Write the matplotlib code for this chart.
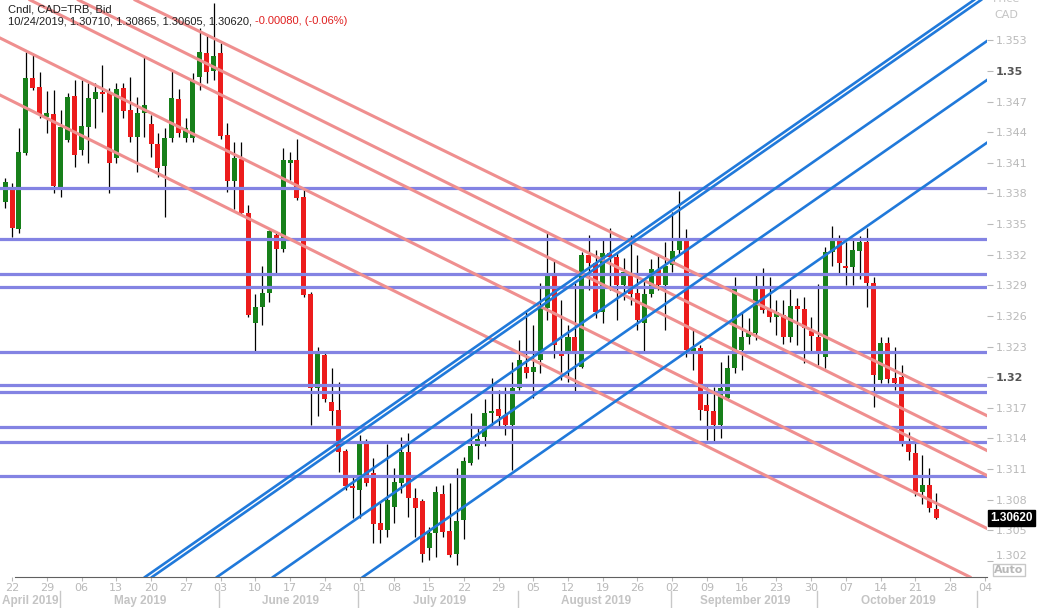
import matplotlib
matplotlib.use("Agg")
import matplotlib.pyplot as plt
import matplotlib.transforms as mtransforms
import numpy as np
import pandas as pd

# daily candles, CAD=TRB bid
dates = pd.bdate_range("2019-04-19", "2019-10-24")
axis_dates = pd.bdate_range("2019-04-19", "2019-11-08")

opens = [1.3372, 1.3386, 1.3345, 1.3420, 1.3493, 1.3484, 1.3455, 1.3458, 1.3386, 1.3432,
         1.3476, 1.3423, 1.3445, 1.3473, 1.3479, 1.3478, 1.3415, 1.3483, 1.3462, 1.3435,
         1.3459, 1.3448, 1.3428, 1.3407, 1.3434, 1.3473, 1.3434, 1.3434, 1.3494, 1.3518,
         1.3500, 1.3518, 1.3437, 1.3392, 1.3414, 1.3361, 1.3253, 1.3269, 1.3282, 1.3339,
         1.3326, 1.3410, 1.3413, 1.3377, 1.3281, 1.3189, 1.3222, 1.3176, 1.3168, 1.3128,
         1.3093, 1.3089, 1.3134, 1.3106, 1.3057, 1.3050, 1.3073, 1.3096, 1.3127, 1.3082,
         1.3079, 1.3033, 1.3047, 1.3085, 1.3049, 1.3027, 1.3060, 1.3116, 1.3132, 1.3141,
         1.3165, 1.3169, 1.3163, 1.3153, 1.3189, 1.3210, 1.3205, 1.3217, 1.3268, 1.3299,
         1.3224, 1.3224, 1.3239, 1.3210, 1.3320, 1.3312, 1.3264, 1.3322, 1.3318, 1.3290,
         1.3300, 1.3282, 1.3253, 1.3281, 1.3305, 1.3290, 1.3310, 1.3325, 1.3333, 1.3224,
         1.3229, 1.3173, 1.3167, 1.3153, 1.3180, 1.3209, 1.3227, 1.3239, 1.3243, 1.3287,
         1.3266, 1.3259, 1.3261, 1.3239, 1.3270, 1.3267, 1.3245, 1.3239, 1.3220, 1.3323,
         1.3333, 1.3309, 1.3308, 1.3324, 1.3332, 1.3292, 1.3197, 1.3233, 1.3199, 1.3200,
         1.3134, 1.3126, 1.3087, 1.3094, 1.30710]
highs = [1.3395, 1.3390, 1.3444, 1.3519, 1.3516, 1.3499, 1.3480, 1.3481, 1.3462, 1.3478,
         1.3491, 1.3491, 1.3488, 1.3488, 1.3506, 1.3483, 1.3488, 1.3488, 1.3494, 1.3475,
         1.3515, 1.3457, 1.3439, 1.3444, 1.3501, 1.3482, 1.3454, 1.3498, 1.3542, 1.3535,
         1.3567, 1.3527, 1.3449, 1.3430, 1.3430, 1.3369, 1.3281, 1.3309, 1.3344, 1.3343,
         1.3425, 1.3421, 1.3433, 1.3383, 1.3283, 1.3230, 1.3224, 1.3209, 1.3195, 1.3130,
         1.3102, 1.3143, 1.3139, 1.3121, 1.3078, 1.3134, 1.3111, 1.3141, 1.3145, 1.3091,
         1.3081, 1.3053, 1.3093, 1.3094, 1.3096, 1.3111, 1.3122, 1.3165, 1.3150, 1.3179,
         1.3199, 1.3187, 1.3190, 1.3215, 1.3236, 1.3264, 1.3251, 1.3292, 1.3341, 1.3314,
         1.3276, 1.3251, 1.3292, 1.3323, 1.3339, 1.3325, 1.3336, 1.3346, 1.3323, 1.3317,
         1.3339, 1.3320, 1.3297, 1.3316, 1.3320, 1.3332, 1.3362, 1.3382, 1.3345, 1.3246,
         1.3231, 1.3190, 1.3190, 1.3215, 1.3222, 1.3298, 1.3263, 1.3258, 1.3300, 1.3307,
         1.3298, 1.3276, 1.3276, 1.3286, 1.3278, 1.3279, 1.3259, 1.3291, 1.3328, 1.3348,
         1.3339, 1.3332, 1.3336, 1.3338, 1.3346, 1.3298, 1.3239, 1.3239, 1.3230, 1.3212,
         1.3146, 1.3136, 1.3124, 1.3111, 1.30865]
lows = [1.3366, 1.3337, 1.3341, 1.3418, 1.3481, 1.3454, 1.3439, 1.3380, 1.3377, 1.3430,
        1.3406, 1.3418, 1.3410, 1.3444, 1.3460, 1.3380, 1.3410, 1.3454, 1.3430, 1.3401,
        1.3435, 1.3416, 1.3396, 1.3357, 1.3430, 1.3435, 1.3430, 1.3430, 1.3481, 1.3488,
        1.3491, 1.3433, 1.3381, 1.3365, 1.3359, 1.3259, 1.3226, 1.3251, 1.3274, 1.3302,
        1.3323, 1.3393, 1.3374, 1.3279, 1.3153, 1.3162, 1.3176, 1.3153, 1.3107, 1.3089,
        1.3062, 1.3062, 1.3093, 1.3037, 1.3037, 1.3043, 1.3057, 1.3086, 1.3063, 1.3043,
        1.3019, 1.3021, 1.3024, 1.3043, 1.3024, 1.3016, 1.3041, 1.3114, 1.3120, 1.3132,
        1.3151, 1.3150, 1.3143, 1.3109, 1.3187, 1.3199, 1.3180, 1.3204, 1.3256, 1.3219,
        1.3197, 1.3195, 1.3185, 1.3209, 1.3285, 1.3258, 1.3253, 1.3285, 1.3256, 1.3276,
        1.3271, 1.3246, 1.3225, 1.3279, 1.3285, 1.3246, 1.3303, 1.3320, 1.3220, 1.3207,
        1.3158, 1.3138, 1.3136, 1.3140, 1.3178, 1.3204, 1.3207, 1.3232, 1.3236, 1.3263,
        1.3254, 1.3241, 1.3232, 1.3234, 1.3231, 1.3214, 1.3226, 1.3212, 1.3209, 1.3309,
        1.3300, 1.3290, 1.3290, 1.3296, 1.3269, 1.3171, 1.3194, 1.3194, 1.3187, 1.3132,
        1.3119, 1.3083, 1.3076, 1.3068, 1.30605]
closes = [1.3391, 1.3346, 1.3421, 1.3493, 1.3483, 1.3457, 1.3459, 1.3387, 1.3445, 1.3475,
          1.3418, 1.3446, 1.3474, 1.3479, 1.3477, 1.3410, 1.3482, 1.3461, 1.3435, 1.3459,
          1.3467, 1.3428, 1.3405, 1.3434, 1.3474, 1.3439, 1.3444, 1.3491, 1.3519, 1.3499,
          1.3515, 1.3436, 1.3392, 1.3415, 1.3361, 1.3261, 1.3269, 1.3282, 1.3343, 1.3326,
          1.3413, 1.3413, 1.3376, 1.3280, 1.3189, 1.3223, 1.3179, 1.3167, 1.3127, 1.3093,
          1.3091, 1.3134, 1.3096, 1.3056, 1.3050, 1.3080, 1.3097, 1.3127, 1.3082, 1.3072,
          1.3027, 1.3047, 1.3087, 1.3048, 1.3026, 1.3059, 1.3118, 1.3132, 1.3139, 1.3165,
          1.3167, 1.3162, 1.3153, 1.3189, 1.3217, 1.3204, 1.3210, 1.3268, 1.3299, 1.3231,
          1.3221, 1.3239, 1.3223, 1.3320, 1.3312, 1.3264, 1.3322, 1.3318, 1.3290, 1.3303,
          1.3281, 1.3256, 1.3281, 1.3306, 1.3290, 1.3309, 1.3324, 1.3333, 1.3227, 1.3229,
          1.3168, 1.3167, 1.3153, 1.3189, 1.3209, 1.3287, 1.3239, 1.3243, 1.3287, 1.3266,
          1.3259, 1.3264, 1.3239, 1.3270, 1.3267, 1.3248, 1.3240, 1.3226, 1.3323, 1.3333,
          1.3312, 1.3307, 1.3325, 1.3332, 1.3292, 1.3202, 1.3233, 1.3198, 1.3194, 1.3136,
          1.3127, 1.3087, 1.3094, 1.3072, 1.30620]

# horizontal support / resistance levels
levels = [1.3385, 1.3335, 1.3301, 1.3288, 1.3225, 1.3192, 1.3185, 1.3151, 1.3136, 1.3103]

# falling channel lines: (date1, price1, date2, price2)
falling = [("2019-04-22", 1.35265, "2019-10-21", 1.30865),
           ("2019-04-22", 1.34706, "2019-10-21", 1.30306),
           ("2019-04-22", 1.35784, "2019-10-21", 1.31384),
           ("2019-04-22", 1.36019, "2019-10-21", 1.31628),
           ("2019-04-22", 1.36285, "2019-10-21", 1.31964)]
# rising channel lines
rising = [("2019-07-01", 1.31504, "2019-10-21", 1.35297),
          ("2019-07-01", 1.31456, "2019-10-21", 1.35249),
          ("2019-07-01", 1.31013, "2019-10-21", 1.34806),
          ("2019-07-01", 1.30631, "2019-10-21", 1.34424),
          ("2019-07-01", 1.30018, "2019-10-21", 1.33810)]

header1 = "Cndl, CAD=TRB, Bid"
header2 = "10/24/2019, 1.30710, 1.30865, 1.30605, 1.30620, "
header_chg = "-0.00080, (-0.06%)"

GREEN = "#17801a"
RED = "#ec1c1c"
PINK = "#ef8f8f"
BLUE = "#2079da"
LAV = "#8383e3"
LIGHT = "#b9b9b9"

fig = plt.figure(figsize=(10.37, 6.08), dpi=100)
ax = fig.add_axes([0, 31 / 608, 987 / 1037, 577 / 608])

o = np.array(opens)
h = np.array(highs)
l = np.array(lows)
c = np.array(closes)
x = np.arange(len(dates))
cols = np.where(c >= o, GREEN, RED)

ax.vlines(x, l, h, color="black", lw=0.9, zorder=2)
ax.bar(x, np.maximum(np.abs(c - o), 0.00012), bottom=np.minimum(o, c),
       width=0.72, color=cols, zorder=3)

def pos(d):
    return axis_dates.get_loc(pd.Timestamp(d))

for lv in levels:
    ax.axhline(lv, color=LAV, lw=2.3, zorder=4)
for d1, p1, d2, p2 in falling:
    ax.axline((pos(d1), p1), (pos(d2), p2), color=PINK, lw=2.2, zorder=4)
for d1, p1, d2, p2 in rising:
    ax.axline((pos(d1), p1), (pos(d2), p2), color=BLUE, lw=1.9, zorder=4)

ax.set_xlim(-0.73, 141.29)
ax.set_ylim(1.30041, 1.35696)

for s in ["left", "top", "right"]:
    ax.spines[s].set_visible(False)
ax.spines["bottom"].set_color("#606060")
ax.spines["bottom"].set_bounds(1.44, 141.29)

# right price axis
yt = np.arange(1.302, 1.3535, 0.003)
ax.yaxis.tick_right()
ax.set_yticks(yt)
labs = []
for v in yt:
    if abs(v - 1.32) < 1e-6 or abs(v - 1.35) < 1e-6:
        labs.append(f"{v:.2f}")
    else:
        labs.append(f"{v:.3f}")
ax.set_yticklabels(labs)
ax.tick_params(axis="y", right=True, length=4, width=0.8, color=LIGHT,
               pad=2, labelsize=8, labelcolor=LIGHT)
for t in ax.get_yticklabels():
    if t.get_text() in ("1.32", "1.35"):
        t.set_fontweight("bold")
        t.set_color("#555555")
ax.get_yticklabels()[0].set_va("bottom")

# weekly date ticks
mondays = [i for i, d in enumerate(axis_dates) if d.dayofweek == 0]
ax.set_xticks(mondays)
ax.set_xticklabels([axis_dates[i].strftime("%d") for i in mondays])
ax.tick_params(axis="x", length=3, width=0.8, color=LIGHT, pad=1.5,
               labelsize=8, labelcolor=LIGHT)

# month separators and names
firsts = [i for i in range(1, len(axis_dates))
          if axis_dates[i].month != axis_dates[i - 1].month]
trans = mtransforms.blended_transform_factory(ax.transData, fig.transFigure)
for f in firsts:
    ax.plot([f - 0.15, f - 0.15], [0, 17 / 608], color="#c8c8c8", lw=1,
            transform=trans, clip_on=False)
edges = [-0.73] + firsts
months = [axis_dates[0]] + [axis_dates[f] for f in firsts[:-1]]
for a, b, m in zip(edges[:-1], edges[1:], months):
    ax.text((a + b) / 2, 7 / 608, m.strftime("%B %Y"), transform=trans,
            ha="center", va="center", fontsize=8.5, fontweight="bold",
            family="Liberation Sans", color="#c4c4c4")

# last price tag
tr2 = mtransforms.blended_transform_factory(ax.transAxes, ax.transData)
ax.text(1.003, c[-1], f"{c[-1]:.5f}", transform=tr2, ha="left", va="center",
        fontsize=8.5, fontweight="bold", family="Liberation Sans",
        color="white", zorder=6,
        bbox=dict(boxstyle="square,pad=0.2", fc="black", ec="black"))

fig.text(1006 / 1037, 1 + 1 / 608, "Price", ha="center", va="center",
         fontsize=8, color="#c4c4c4")
fig.text(1006 / 1037, 1 - 15 / 608, "CAD", ha="center", va="center",
         fontsize=8, color="#c4c4c4")
fig.text(1009 / 1037, 1 - 570 / 608, "Auto", ha="center", va="center",
         fontsize=8, fontweight="bold", color="#b8b8b8",
         bbox=dict(boxstyle="square,pad=0.12", fc="white", ec="#c8c8c8"))

# header
hfont = dict(family="Liberation Sans", fontsize=8)
fig.text(8 / 1037, 1 - 9 / 608, header1, va="center", color="#202020", **hfont)
t2 = fig.text(8 / 1037, 1 - 21 / 608, header2, va="center", color="#202020", **hfont)
r = fig.canvas.get_renderer()
bb = t2.get_window_extent(renderer=r)
fig.text(bb.x1 / fig.bbox.width, 1 - 21 / 608, header_chg, va="center",
         color="#e02020", **hfont)

fig.savefig("out.png", dpi=100)
